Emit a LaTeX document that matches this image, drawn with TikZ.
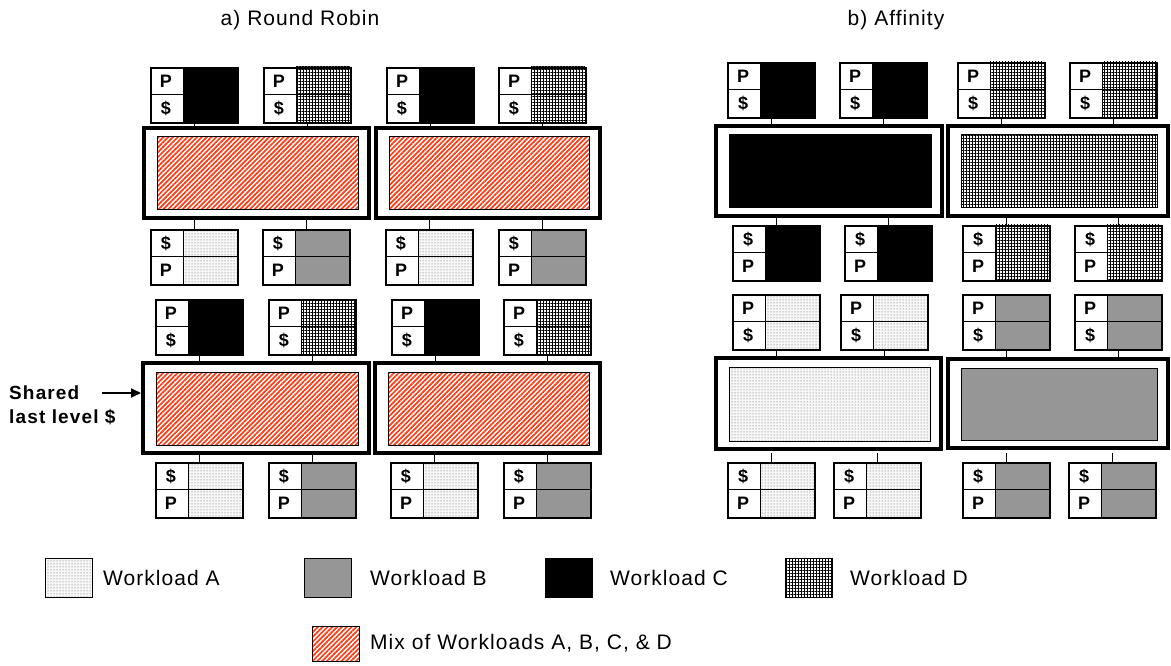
\documentclass[tikz,border=0pt]{standalone}
\usepackage{fontspec}
\setmainfont{Liberation Sans}
\newfontfamily\trackfont[LetterSpace=5]{Liberation Sans}
\newfontfamily\trackbold[LetterSpace=6]{Liberation Sans Bold}
\usetikzlibrary{patterns.meta,arrows.meta}

\definecolor{wbgray}{RGB}{150,150,150}
\definecolor{mixred}{RGB}{250,60,20}

\tikzset{
  wa/.style={preaction={fill=gray!6}, pattern={Dots[distance=3pt,radius=0.5pt]}, pattern color=gray!70!black},
  wb/.style={fill=wbgray},
  wc/.style={fill=black},
  wd/.style={preaction={fill=white}, pattern={Hatch[angle=0,distance=3pt,line width=0.7pt]}, pattern color=black},
  mix/.style={preaction={fill=white}, pattern={Lines[angle=45,distance=3.4pt,line width=1.7pt]}, pattern color=mixred},
  coreframe/.style={draw, line width=1.6pt, minimum width=87pt, minimum height=55pt, inner sep=0pt, anchor=north west},
  letter/.style={font=\fontsize{18}{18}\selectfont\bfseries, inner sep=0pt},
  llcout/.style={draw, line width=4pt, inner sep=0pt},
  llcin/.style={draw, line width=1pt, inner sep=0pt},
  tick/.style={line width=1.2pt},
  title/.style={font=\fontsize{21}{24}\trackfont},
  legtext/.style={font=\fontsize{21}{24}\trackfont, anchor=west, inner sep=0pt},
  legbox/.style={draw, line width=1pt, minimum width=47pt, minimum height=39pt, inner sep=0pt, anchor=north west},
  sidelabel/.style={font=\fontsize{19}{24}\trackbold, align=left, anchor=west, inner sep=0pt}
}

% core: name, x, y, top letter, bottom letter, fill
\newcommand{\mkcore}[6]{%
  \fill[#6] (#2+33,#3) rectangle (#2+87,#3+55);
  \draw[line width=1pt] (#2+33,#3) -- (#2+33,#3+55) (#2,#3+27.5) -- (#2+87,#3+27.5);
  \node[coreframe] (#1) at (#2,#3) {};
  \node[letter] (#1-t) at (#2+16,#3+14) {#4};
  \node[letter] (#1-b) at (#2+16,#3+41.5) {#5};
}
% shared cache: name, x1, y1, x2, y2, fill
\newcommand{\mkllc}[6]{%
  \node[llcout, minimum width={#4-#2}, minimum height={#5-#3}] (#1) at ({(#2+#4)/2},{(#3+#5)/2}) {};
  \node[llcin, #6, minimum width={#4-#2-24}, minimum height={#5-#3-17}] (#1-in) at ({(#2+#4)/2+1},{(#3+#5)/2+0.5}) {};
}

\begin{document}
\begin{tikzpicture}[x=1pt,y=-1pt]
\useasboundingbox (0,0) rectangle (1171,666);

% titles
\node[title] (ta) at (300,20) {a) Round Robin};
\node[title] (tb) at (896,20) {b) Affinity};

% ---------- Round Robin ----------
\mkcore{r1a}{150}{67}{P}{\$}{wc}
\mkcore{r1b}{263}{67}{P}{\$}{wd}
\mkcore{r1c}{386}{67}{P}{\$}{wc}
\mkcore{r1d}{498}{67}{P}{\$}{wd}
\mkllc{rs1}{144}{128}{369}{218}{mix}
\mkllc{rs2}{376}{128}{600}{218}{mix}
\mkcore{r2a}{150}{229}{\$}{P}{wa}
\mkcore{r2b}{262}{229}{\$}{P}{wb}
\mkcore{r2c}{385}{229}{\$}{P}{wa}
\mkcore{r2d}{498}{229}{\$}{P}{wb}
\mkcore{r3a}{155}{299}{P}{\$}{wc}
\mkcore{r3b}{268}{299}{P}{\$}{wd}
\mkcore{r3c}{391}{299}{P}{\$}{wc}
\mkcore{r3d}{503}{299}{P}{\$}{wd}
\mkllc{rs3}{143}{363}{369}{453}{mix}
\mkllc{rs4}{375}{363}{600}{453}{mix}
\mkcore{r4a}{155}{462}{\$}{P}{wa}
\mkcore{r4b}{268}{462}{\$}{P}{wb}
\mkcore{r4c}{390}{462}{\$}{P}{wa}
\mkcore{r4d}{503}{462}{\$}{P}{wb}

\foreach \c/\s in {r1a/rs1,r1b/rs1,r1c/rs2,r1d/rs2,r3a/rs3,r3b/rs3,r3c/rs4,r3d/rs4}
  \draw[tick] (\c.south) -- (\c.south |- \s.north);
\foreach \c/\s in {r2a/rs1,r2b/rs1,r2c/rs2,r2d/rs2,r4a/rs3,r4b/rs3,r4c/rs4,r4d/rs4}
  \draw[tick] (\c.north) -- (\c.north |- \s.south);

% side label
\node[sidelabel] (shl) at (9,405) {Shared\\last level \$};
\coordinate (arrs) at (102,393);
\draw[line width=2pt, -{Triangle[length=10pt,width=9pt]}] (arrs) -- (arrs -| rs3.west);

% ---------- Affinity ----------
\mkcore{a1a}{727}{62}{P}{\$}{wc}
\mkcore{a1b}{839}{62}{P}{\$}{wc}
\mkcore{a1c}{957}{62}{P}{\$}{wd}
\mkcore{a1d}{1069}{62}{P}{\$}{wd}
\mkllc{as1}{716}{126}{942}{216}{wc}
\mkllc{as2}{948}{126}{1168}{216}{wd}
\mkcore{a2a}{732}{225}{\$}{P}{wc}
\mkcore{a2b}{844}{225}{\$}{P}{wc}
\mkcore{a2c}{962}{225}{\$}{P}{wd}
\mkcore{a2d}{1074}{225}{\$}{P}{wd}
\mkcore{a3a}{732}{294}{P}{\$}{wa}
\mkcore{a3b}{840}{294}{P}{\$}{wa}
\mkcore{a3c}{962}{294}{P}{\$}{wb}
\mkcore{a3d}{1074}{294}{P}{\$}{wb}
\mkllc{as3}{716}{358}{941}{449}{wa}
\mkllc{as4}{948}{359}{1168}{448}{wb}
\mkcore{a4a}{727}{462}{\$}{P}{wa}
\mkcore{a4b}{833}{462}{\$}{P}{wa}
\mkcore{a4c}{962}{462}{\$}{P}{wb}
\mkcore{a4d}{1068}{462}{\$}{P}{wb}

\foreach \c/\s in {a1a/as1,a1b/as1,a1c/as2,a1d/as2,a3a/as3,a3b/as3,a3c/as4,a3d/as4}
  \draw[tick] (\c.south) -- (\c.south |- \s.north);
\foreach \c/\s in {a2a/as1,a2b/as1,a2c/as2,a2d/as2}
  \draw[tick] (\c.north) -- (\c.north |- \s.south);
\foreach \c in {a4a,a4b,a4c,a4d}
  \draw[tick] (\c.north) -- ++(0,-9);

% ---------- Legend ----------
\node[legbox, wa] (lga) at (45,558) {};
\node[legtext] (lta) at (103,578) {Workload A};
\node[legbox, wb] (lgb) at (304,558) {};
\node[legtext] (ltb) at (370,578) {Workload B};
\node[legbox, wc] (lgc) at (545,558) {};
\node[legtext] (ltc) at (610,578) {Workload C};
\node[legbox, wd] (lgd) at (785,558) {};
\node[legtext] (ltd) at (850,578) {Workload D};
\node[legbox, mix, minimum height=35pt] (lgm) at (312,626) {};
\node[legtext] (ltm) at (370,643) {Mix of Workloads A, B, C, \& D};
\end{tikzpicture}
\end{document}
